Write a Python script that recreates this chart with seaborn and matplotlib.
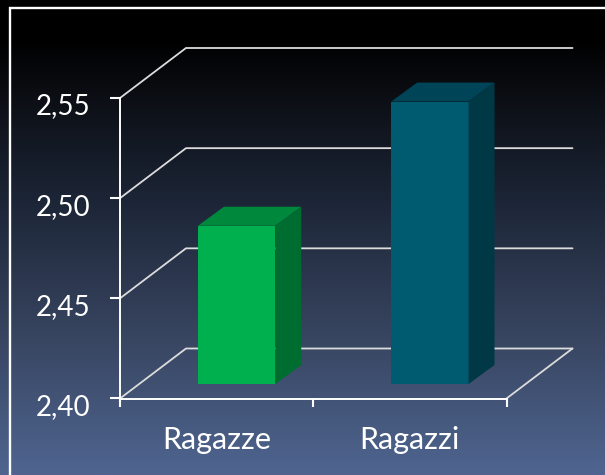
import numpy as np
import matplotlib
matplotlib.use("Agg")
import matplotlib.pyplot as plt
import seaborn as sns
from matplotlib.colors import LinearSegmentedColormap
from matplotlib.patches import Polygon, Rectangle
from matplotlib.transforms import IdentityTransform, Affine2D

categories = ["Ragazze", "Ragazzi"]
values = [2.479, 2.541]
y_ticks = [2.40, 2.45, 2.50, 2.55]
y_labels = ["2,40", "2,45", "2,50", "2,55"]

front_colors = ["#00b04f", "#005b71"]
top_colors = ["#00893c", "#004557"]
side_colors = ["#006d30", "#003845"]

W, H = 605, 475
DEPTH = np.array([66, 50])       # wall depth in pixels
BAR_SHIFT = np.array([20, 14.5])  # bars stand this far into the floor
BAR_DEPTH = np.array([26, 19])

sns.set_theme(style="white")
plt.rcParams["font.family"] = ["Lato", "DejaVu Sans"]

fig = plt.figure(figsize=(W / 100, H / 100), dpi=100)

# background gradient
bg = fig.add_axes([0, 0, 1, 1], zorder=0)
cmap = LinearSegmentedColormap.from_list("bg", [
    (0.0, "#000000"), (0.08, "#000000"), (0.21, "#0c0f15"), (0.42, "#1c2536"),
    (0.70, "#37445f"), (1.0, "#4f6590")])
bg.imshow(np.linspace(0, 1, 256).reshape(-1, 1), aspect="auto", cmap=cmap, extent=[0, 1, 0, 1])
bg.set_axis_off()
bg.add_patch(Rectangle((10 / W, -0.1), 1.2, 1.1 - 8 / H, fill=False, edgecolor="white", lw=1.7))

# axis frame
ax_box = [120 / W, (H - 398.5) / H, 386.5 / W, 300.5 / H]
ax = fig.add_axes(ax_box, zorder=1, facecolor="none")
ax.set_xlim(-0.5, 1.5)
ax.set_ylim(y_ticks[0], y_ticks[-1])
for s in ["top", "right"]:
    ax.spines[s].set_visible(False)
for s in ["left", "bottom"]:
    ax.spines[s].set_color("white")
    ax.spines[s].set_linewidth(1.4)
ax.set_yticks(y_ticks, y_labels)
ax.set_xticks([-0.5, 0.5, 1.5], ["", "", ""])
ax.set_xticks([0, 1], categories, minor=True)
ax.tick_params(axis="y", left=True, length=7, width=1.5, color="white", labelcolor="white",
               labelsize=20, pad=14)
ax.tick_params(axis="x", which="major", bottom=True, length=6, width=1.5, color="white")
ax.tick_params(axis="x", which="minor", bottom=False, length=0, labelcolor="white",
               labelsize=22, pad=20)
for lab in ax.get_yticklabels():
    lab.set_transform(lab.get_transform() + Affine2D().translate(0, -6))

# walls and floor
fig.canvas.draw()
right = ax.transData.transform((1.5, y_ticks[0]))
for v in y_ticks:
    p0 = ax.transData.transform((-0.5, v))
    p1 = p0 + DEPTH
    p2 = np.array([right[0] + DEPTH[0], p1[1]])
    pts = np.array([p0, p1, p2])
    ax.plot(pts[:, 0], pts[:, 1], transform=IdentityTransform(), color="#dcdcdc", lw=1.3,
            clip_on=False, scalex=False, scaley=False)
p0 = right
p1 = right + DEPTH
ax.plot([p0[0], p1[0]], [p0[1], p1[1]], transform=IdentityTransform(), color="#dcdcdc", lw=1.3,
        clip_on=False, scalex=False, scaley=False)

# bars sit on their own axes, shifted back into the floor
bar_ax = fig.add_axes([ax_box[0] + BAR_SHIFT[0] / W, ax_box[1] + BAR_SHIFT[1] / H, ax_box[2], ax_box[3]],
                      zorder=2, facecolor="none")
sns.barplot(x=categories, y=values, hue=categories, palette=front_colors, width=0.4,
            legend=False, saturation=1, linewidth=0, ax=bar_ax)
bar_ax.set_xlim(-0.5, 1.5)
bar_ax.set_ylim(y_ticks[0], y_ticks[-1])
bar_ax.set_axis_off()

fig.canvas.draw()
for bar, top_c, side_c in zip(bar_ax.patches, top_colors, side_colors):
    x0, x1 = bar.get_x(), bar.get_x() + bar.get_width()
    y1 = bar.get_y() + bar.get_height()
    bl = bar_ax.transData.transform((x0, y_ticks[0]))
    br = bar_ax.transData.transform((x1, y_ticks[0]))
    tl = bar_ax.transData.transform((x0, y1))
    tr = bar_ax.transData.transform((x1, y1))
    bar_ax.add_patch(Polygon([tl, tr, tr + BAR_DEPTH, tl + BAR_DEPTH], closed=True, facecolor=top_c,
                             edgecolor="none", transform=IdentityTransform(), clip_on=False))
    bar_ax.add_patch(Polygon([br, tr, tr + BAR_DEPTH, br + BAR_DEPTH], closed=True, facecolor=side_c,
                             edgecolor="none", transform=IdentityTransform(), clip_on=False))

fig.savefig("out.png", dpi=100)
